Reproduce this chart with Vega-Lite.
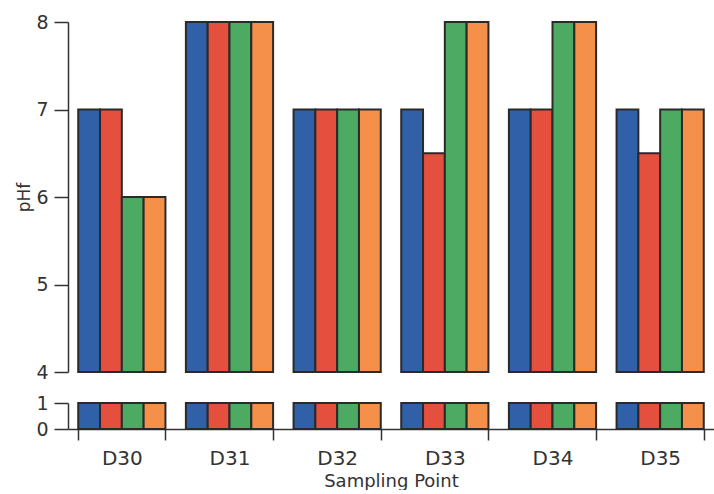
{
  "$schema": "https://vega.github.io/schema/vega-lite/v6.json",
  "background": "white",
  "padding": {"left": 15, "top": 13, "right": 0, "bottom": 0},
  "bounds": "flush",
  "config": {
    "view": {"stroke": null},
    "font": "DejaVu Sans",
    "axis": {"domainColor": "#333", "tickColor": "#333", "labelColor": "#333", "titleColor": "#333", "domainWidth": 1.5, "tickWidth": 1.5, "grid": false, "titleFontWeight": "normal"}
  },
  "data": {"values": [
    {"point": "D30", "series": "A", "pHf": 7}, {"point": "D30", "series": "B", "pHf": 7}, {"point": "D30", "series": "C", "pHf": 6}, {"point": "D30", "series": "D", "pHf": 6},
    {"point": "D31", "series": "A", "pHf": 8}, {"point": "D31", "series": "B", "pHf": 8}, {"point": "D31", "series": "C", "pHf": 8}, {"point": "D31", "series": "D", "pHf": 8},
    {"point": "D32", "series": "A", "pHf": 7}, {"point": "D32", "series": "B", "pHf": 7}, {"point": "D32", "series": "C", "pHf": 7}, {"point": "D32", "series": "D", "pHf": 7},
    {"point": "D33", "series": "A", "pHf": 7}, {"point": "D33", "series": "B", "pHf": 6.5}, {"point": "D33", "series": "C", "pHf": 8}, {"point": "D33", "series": "D", "pHf": 8},
    {"point": "D34", "series": "A", "pHf": 7}, {"point": "D34", "series": "B", "pHf": 7}, {"point": "D34", "series": "C", "pHf": 8}, {"point": "D34", "series": "D", "pHf": 8},
    {"point": "D35", "series": "A", "pHf": 7}, {"point": "D35", "series": "B", "pHf": 6.5}, {"point": "D35", "series": "C", "pHf": 7}, {"point": "D35", "series": "D", "pHf": 7}
  ]},
  "spacing": 31,
  "vconcat": [
    {
      "width": 646,
      "height": 350,
      "mark": {"type": "bar", "stroke": "#2a2a2a", "strokeWidth": 2},
      "encoding": {
        "x": {"field": "point", "type": "nominal", "scale": {"paddingInner": 0.19, "paddingOuter": 0.095}, "axis": null},
        "xOffset": {"field": "series", "type": "nominal"},
        "y": {"field": "pHf", "type": "quantitative", "scale": {"domain": [4, 8], "nice": false, "zero": false, "clamp": true},
              "axis": {"values": [4, 5, 6, 7, 8], "format": "d", "title": "pHf", "tickSize": 14, "labelFontSize": 19, "titleFontSize": 17, "labelPadding": 6, "titlePadding": 2}},
        "color": {"field": "series", "type": "nominal", "scale": {"range": ["#3060a8", "#e54f3e", "#4caa62", "#f5904a"]}, "legend": null}
      }
    },
    {
      "width": 646,
      "height": 26,
      "mark": {"type": "bar", "stroke": "#2a2a2a", "strokeWidth": 2},
      "encoding": {
        "x": {"field": "point", "type": "nominal", "scale": {"paddingInner": 0.19, "paddingOuter": 0.095},
              "axis": {"title": "Sampling Point", "labelAngle": 0, "tickBand": "extent", "tickSize": 11, "labelFontSize": 20, "titleFontSize": 18, "labelPadding": 8, "titlePadding": 4}},
        "xOffset": {"field": "series", "type": "nominal"},
        "y": {"field": "pHf", "type": "quantitative", "scale": {"domain": [0, 1], "nice": false, "clamp": true},
              "axis": {"values": [0, 1], "format": "d", "title": null, "tickSize": 14, "labelFontSize": 19, "labelPadding": 6}},
        "color": {"field": "series", "type": "nominal", "scale": {"range": ["#3060a8", "#e54f3e", "#4caa62", "#f5904a"]}, "legend": null}
      }
    }
  ]
}
